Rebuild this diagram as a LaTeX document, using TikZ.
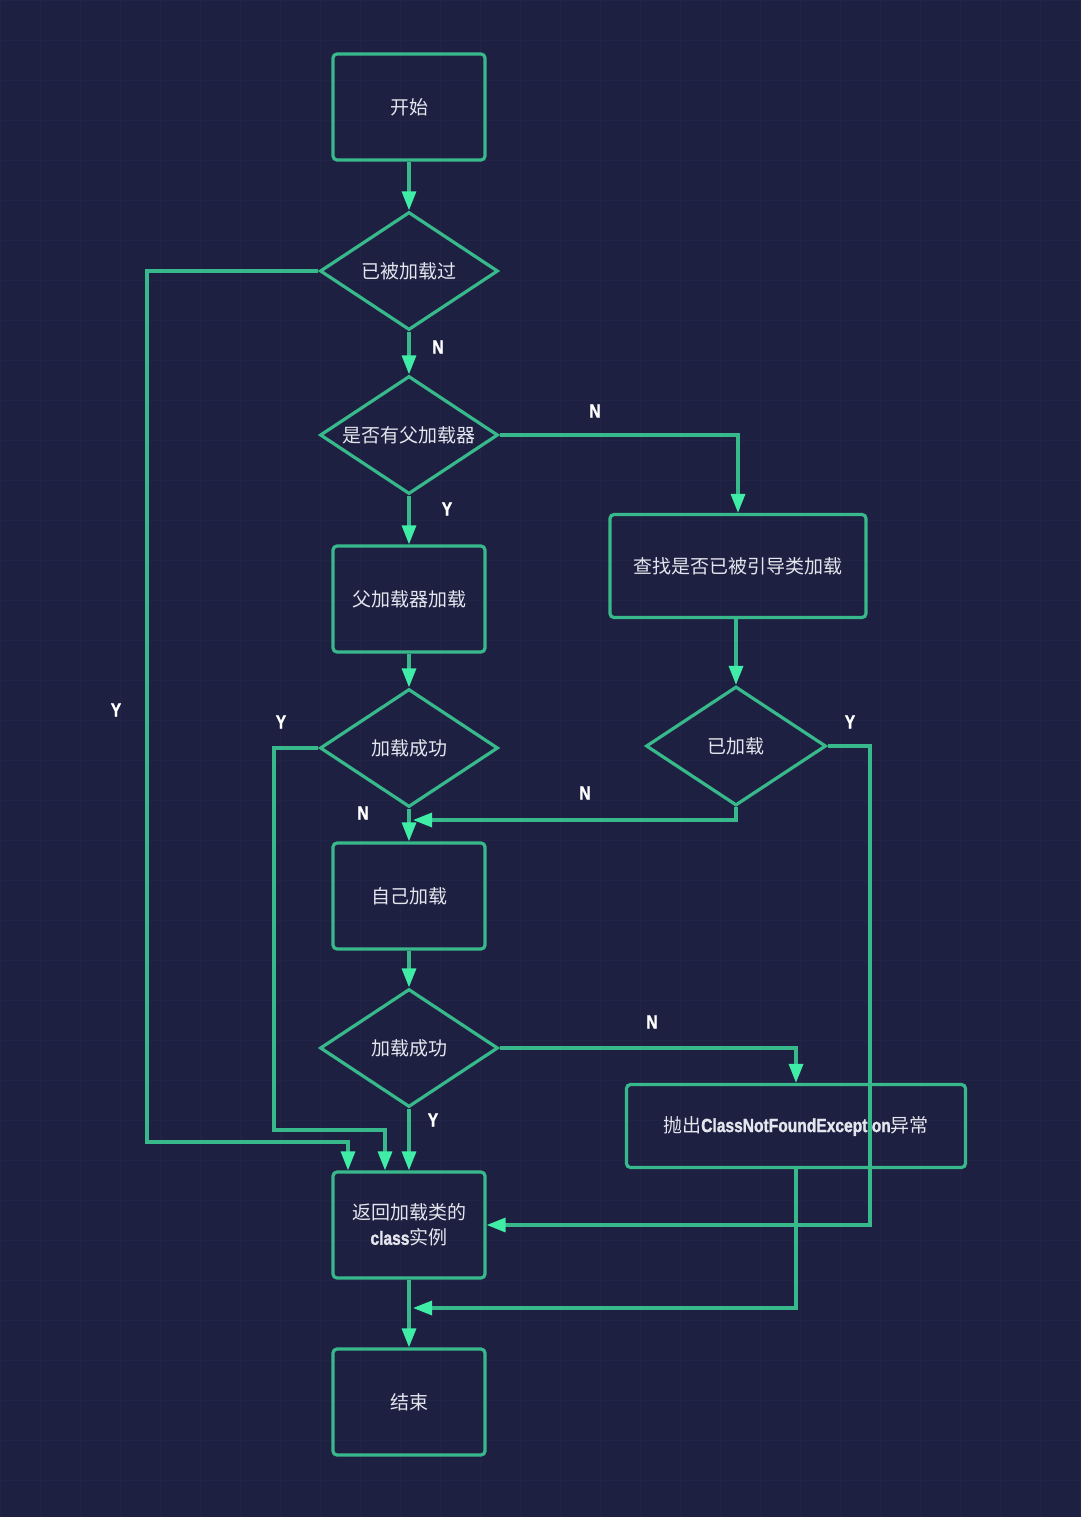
\documentclass[tikz,border=0pt]{standalone}
\usepackage{fontspec}
\usepackage{graphicx}
\newfontfamily\cjk{Noto Sans CJK SC}
\newfontfamily\labfont{Liberation Sans Bold}[FakeBold=1.6]
\usetikzlibrary{shapes.geometric,arrows.meta}
\definecolor{bg}{HTML}{1E2042}
\definecolor{gridc}{HTML}{212446}
\definecolor{ln}{HTML}{38B98B}
\definecolor{tipc}{HTML}{40EDA6}
\definecolor{txt}{HTML}{E4E6EE}
\newcommand\lbl[1]{\scalebox{0.82}[1]{\labfont #1}}
\begin{document}
\begin{tikzpicture}[x=1pt,y=-1pt,
  box/.style={draw=ln,line width=3.2pt,rounded corners=4pt,minimum width=152pt,minimum height=106pt,inner sep=0pt,font=\cjk\fontsize{19}{25}\selectfont,text=txt,align=center},
  dia/.style={diamond,aspect=1.5,draw=ln,line width=3.2pt,minimum width=178pt,minimum height=118pt,inner sep=0pt,font=\cjk\fontsize{19}{25}\selectfont,text=txt},
  conn/.style={draw=ln,line width=3.2pt,-{Triangle[length=19pt,width=14pt,color=tipc]}},
  yn/.style={text=white,font=\fontsize{19}{22}\selectfont,inner sep=0pt}]
\fill[bg] (0,0) rectangle (1080,1517);
\useasboundingbox (0,0) rectangle (1080,1517);
\foreach \x in {0,40,...,1080} \draw[gridc,line width=0.6pt] (\x,0) -- (\x,1517);
\foreach \y in {0,40,...,1517} \draw[gridc,line width=0.6pt] (0,\y) -- (1080,\y);

% nodes
\node[box] (start) at (409,107) {开始};
\node[dia] (d1) at (409,271) {已被加载过};
\node[dia] (d2) at (409,435) {是否有父加载器};
\node[box] (p) at (409,599) {父加载器加载};
\node[dia] (d3) at (409,748) {加载成功};
\node[box] (self) at (409,896) {自己加载};
\node[dia] (d4) at (409,1048) {加载成功};
\node[box] (ret) at (409,1225) {返回加载类的\\\lbl{class}实例};
\node[box] (end) at (409,1402) {结束};
\node[box,minimum width=256pt,minimum height=103pt] (find) at (738,566) {查找是否已被引导类加载};
\node[dia,minimum width=180pt,minimum height=119pt] (yjz) at (736,746) {已加载};
\node[box,minimum width=339pt,minimum height=83pt] (thr) at (796,1126) {抛出\lbl{ClassNotFoundException}异常};

% helper coordinates
\coordinate (c1) at (147,1142);
\coordinate (c2) at (274,1130);
\coordinate (c3) at (870,1225);
\coordinate (m1) at (413,820);
\coordinate (m2) at (413,1308);

% connectors
\draw[conn] (start.south) -- (d1.north);
\draw[conn] (d1.south) -- (d2.north);
\draw[conn] (d2.south) -- (p.north);
\draw[conn] (p.south) -- (d3.north);
\draw[conn] (d3.south) -- (self.north);
\draw[conn] (self.south) -- (d4.north);
\draw[conn] (d4.south) -- (ret.north);
\draw[conn] (ret.south) -- (end.north);
\draw[conn] (yjz.north |- find.south) -- (yjz.north);
\draw[conn] (d2.east) -| (find.north);
\draw[conn] (d1.west) -| (c1) -| ([xshift=-61pt]ret.north);
\draw[conn] (d3.west) -| (c2) -| ([xshift=-24pt]ret.north);
\draw[conn] (yjz.south) |- (m1);
\draw[conn] (yjz.east) -| (c3) -- (ret.east);
\draw[conn] (d4.east) -| (thr.north);
\draw[conn] (thr.south) |- (m2);

% labels
\node[yn] (l1) at (438,347) {\lbl{N}};
\node[yn] (l2) at (595,411) {\lbl{N}};
\node[yn] (l3) at (447,509) {\lbl{Y}};
\node[yn] (l4) at (116,710) {\lbl{Y}};
\node[yn] (l5) at (281,722) {\lbl{Y}};
\node[yn] (l6) at (363,813) {\lbl{N}};
\node[yn] (l7) at (585,793) {\lbl{N}};
\node[yn] (l8) at (850,722) {\lbl{Y}};
\node[yn] (l9) at (652,1022) {\lbl{N}};
\node[yn] (l10) at (433,1120) {\lbl{Y}};
\end{tikzpicture}
\end{document}
